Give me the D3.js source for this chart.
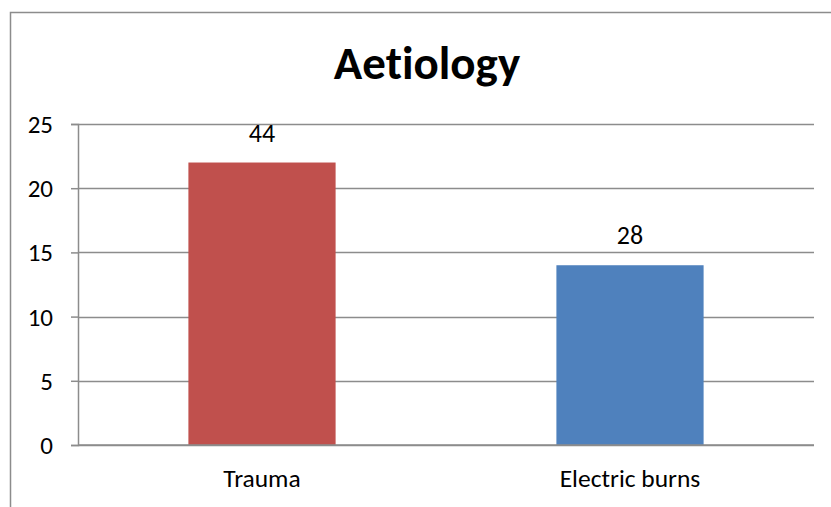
<!DOCTYPE html>
<meta charset="utf-8">
<script src="https://d3js.org/d3.v7.min.js"></script>
<style>
  body { margin: 0; background: #fff; }
  text { font-family: Calibri, Carlito, "Open Sans", sans-serif; fill: #000; font-variant-ligatures: none; }
</style>
<div id="chart"></div>
<script>
// data
var categories = ["Trauma", "Electric burns"];
var values = [22, 14];
var valueLabels = ["44", "28"];
var barColors = ["#C0504D", "#4F81BD"];
var yTicks = [0, 5, 10, 15, 20, 25];

var W = 831, H = 507;
var margin = {top: 124, right: 17, bottom: 62, left: 78},
    width = W - margin.left - margin.right,
    height = H - margin.top - margin.bottom;

var svg = d3.select("#chart").append("svg")
    .attr("width", W).attr("height", H);

// outer frame of the chart area
svg.append("rect")
    .attr("x", 10.5).attr("y", 12.5)
    .attr("width", 840).attr("height", 520)
    .attr("fill", "none").attr("stroke", "#8c8c8c").attr("stroke-width", 1.5);

// title
svg.append("text")
    .attr("x", 427).attr("y", 79)
    .attr("text-anchor", "middle")
    .style("font-size", "47px").style("font-weight", "bold")
    .text("Aetiology");

var g = svg.append("g")
    .attr("transform", "translate(" + margin.left + "," + margin.top + ")");

var x = d3.scaleBand().domain(categories).range([0, width]);
var y = d3.scaleLinear().domain([0, 25]).range([height, 0]);

// gridlines
g.selectAll(".grid").data(yTicks).enter().append("line")
    .attr("x1", 0).attr("x2", width)
    .attr("y1", function(d) { return Math.round(y(d)) + 0.5; })
    .attr("y2", function(d) { return Math.round(y(d)) + 0.5; })
    .attr("stroke", "#8c8c8c").attr("stroke-width", 1.5);

// bars
var bw = x.bandwidth() * 0.4;
g.selectAll(".bar").data(values).enter().append("rect")
    .attr("x", function(d, i) { return x(categories[i]) + (x.bandwidth() - bw) / 2; })
    .attr("y", function(d) { return y(d); })
    .attr("width", bw)
    .attr("height", function(d) { return height - y(d); })
    .attr("fill", function(d, i) { return barColors[i]; });

// value labels
g.selectAll(".lbl").data(values).enter().append("text")
    .attr("x", function(d, i) { return x(categories[i]) + x.bandwidth() / 2; })
    .attr("y", function(d) { return y(d) - 21; })
    .attr("text-anchor", "middle")
    .style("font-size", "26px")
    .text(function(d, i) { return valueLabels[i]; });

// y axis
var yAxis = g.append("g")
    .call(d3.axisLeft(y).tickValues(yTicks).tickSize(7).tickPadding(18));
yAxis.selectAll("text").style("font-size", "25px").attr("dy", "0.34em");

// x axis
var xAxis = g.append("g")
    .attr("transform", "translate(0," + height + ")")
    .call(d3.axisBottom(x).tickSize(0));
xAxis.selectAll("text").style("font-size", "25.5px").attr("y", 42).attr("dy", 0);
// category boundary ticks
xAxis.selectAll(".bound").data([0, 1, 2]).enter().append("line")
    .attr("x1", function(d) { return d * x.bandwidth(); })
    .attr("x2", function(d) { return d * x.bandwidth(); })
    .attr("y1", 0).attr("y2", 8);

svg.selectAll(".domain, .tick line, .bound")
    .attr("stroke", "#8c8c8c").attr("stroke-width", 1.5);
xAxis.select(".domain").attr("d", "M0,0H" + width);
</script>
